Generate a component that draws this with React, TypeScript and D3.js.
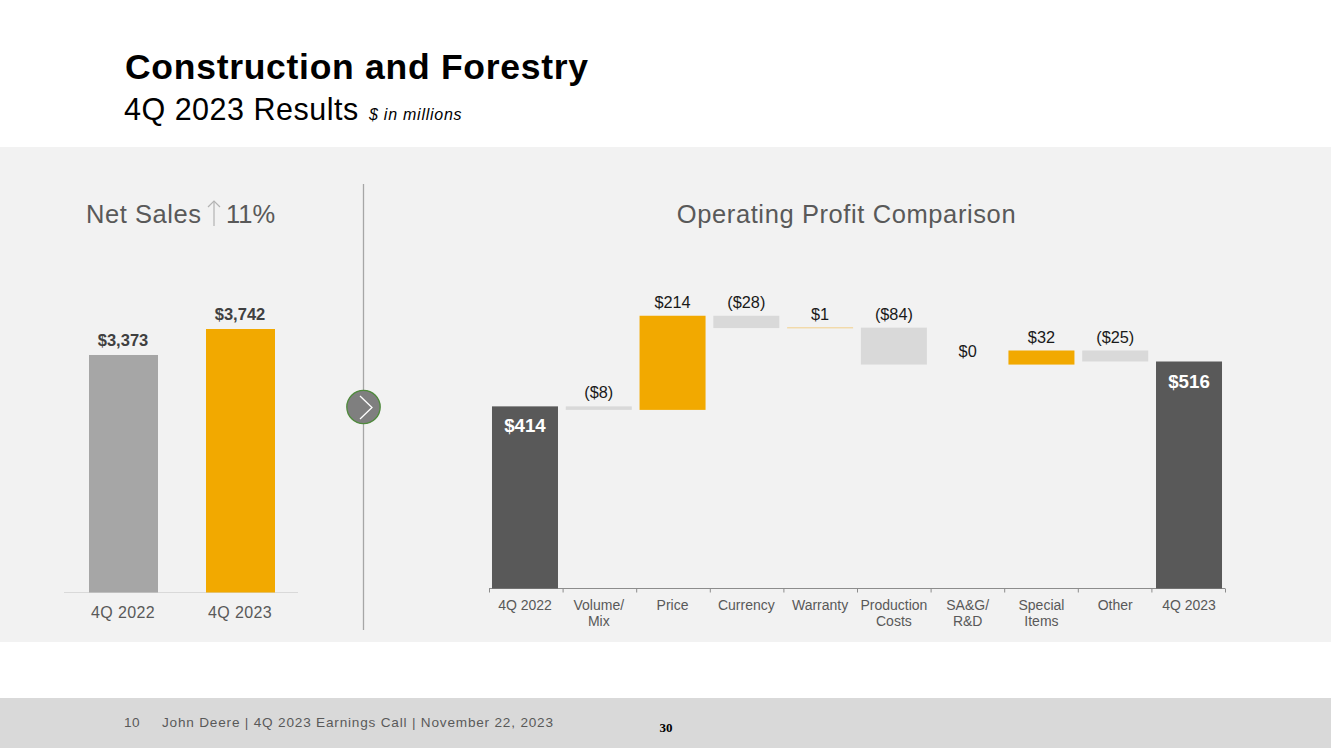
import React from "react";
import * as d3 from "d3";

const salesLabels = ["4Q 2022", "4Q 2023"];
const salesValues = [3373, 3742];
const salesText = ["$3,373", "$3,742"];
const salesColors = ["#a6a6a6", "#f2a900"];

const wfCategories = ["4Q 2022", "Volume/\nMix", "Price", "Currency", "Warranty", "Production\nCosts", "SA&G/\nR&D", "Special\nItems", "Other", "4Q 2023"];
const wfValues = [414, -8, 214, -28, 1, -84, 0, 32, -25, 516];
const wfKinds = ["total", "delta", "delta", "delta", "delta", "delta", "delta", "delta", "delta", "total"];
const wfText = ["$414", "($8)", "$214", "($28)", "$1", "($84)", "$0", "$32", "($25)", "$516"];

const FONT = "Liberation Sans, Arial, sans-serif";

export default function App() {
  const barW = 69;
  const sx = d3.scalePoint<string>().domain(salesLabels).range([89 + barW / 2, 206 + barW / 2]);
  const sy = d3.scaleLinear().domain([0, 3742]).range([592.5, 329]);

  const wx = d3.scaleBand<number>().domain(d3.range(wfValues.length)).range([488.1, 1225.9]);
  const wy = d3.scaleLinear().domain([0, 516]).range([588.5, 361.5]);
  const wfBarW = 66;

  let running = 0;
  const bars = wfValues.map((v, i) => {
    if (wfKinds[i] === "total") {
      running = v;
      return { y0: 0, y1: v, v, i, total: true };
    }
    const y0 = running;
    running += v;
    return { y0, y1: running, v, i, total: false };
  });

  return (
    <svg width={1331} height={748} style={{ position: "absolute", left: 0, top: 0, display: "block" }} fontFamily={FONT}>
      <rect x={0} y={0} width={1331} height={748} fill="#ffffff" />
      <rect x={0} y={147} width={1331} height={495} fill="#f2f2f2" />
      <rect x={0} y={698} width={1331} height={50} fill="#d9d9d9" />

      <text x={125} y={78.5} fontSize={35.5} fontWeight={700} fill="#000" letterSpacing={0.72}>Construction and Forestry</text>
      <text x={124} y={120} fontSize={30.5} fill="#000" letterSpacing={0.5}>4Q 2023 Results</text>
      <text x={369} y={120} fontSize={16} fontStyle="italic" fill="#000" letterSpacing={0.75}>$ in millions</text>

      <text x={86} y={222.5} fontSize={25.5} fill="#595959" letterSpacing={0.55}>Net Sales</text>
      <g stroke="#b3b3b3" strokeWidth={1.2} fill="none">
        <path d="M214 226V201" />
        <path d="M208 207L214 201L220 207" />
      </g>
      <text x={226} y={222.5} fontSize={25.5} fill="#595959">11%</text>
      <text x={846.5} y={222.5} fontSize={25.5} fill="#595959" textAnchor="middle" letterSpacing={0.6}>Operating Profit Comparison</text>

      <line x1={363.5} x2={363.5} y1={184} y2={630} stroke="#a6a6a6" strokeWidth={1.3} />
      <circle cx={363.5} cy={407} r={16.7} fill="#7f7f7f" stroke="#4f8a3c" strokeWidth={1.3} />
      <path d="M360 396L372 407.5L360 419" fill="none" stroke="#fff" strokeWidth={1.3} />

      <line x1={64} x2={298} y1={592.5} y2={592.5} stroke="#d9d9d9" strokeWidth={1} />
      {salesLabels.map((c, i) => {
        const mid = sx(c) as number;
        return (
          <g key={c}>
            <rect x={mid - barW / 2} y={sy(salesValues[i])} width={barW} height={sy(0) - sy(salesValues[i])} fill={salesColors[i]} />
            <text x={mid - 0.5} y={sy(salesValues[i]) - 9} fontSize={16.5} fontWeight={700} fill="#404040" textAnchor="middle">{salesText[i]}</text>
            <text x={mid - 0.5} y={618} fontSize={16} fill="#595959" textAnchor="middle" letterSpacing={0.35}>{c}</text>
          </g>
        );
      })}

      <line x1={489} x2={1225} y1={588.5} y2={588.5} stroke="#8c8c8c" strokeWidth={1} />
      {d3.range(wfValues.length + 1).map((i) => {
        const x = 489.5 + (i * (1225 - 489)) / wfValues.length;
        return <line key={i} x1={x} x2={x} y1={588.5} y2={592.5} stroke="#8c8c8c" strokeWidth={1} />;
      })}
      {bars.map((b) => {
        const c = (wx(b.i) as number) + wx.bandwidth() / 2;
        const top = wy(Math.max(b.y0, b.y1));
        const bottom = wy(Math.min(b.y0, b.y1));
        const fill = b.total ? "#595959" : b.v > 0 ? "#f2a900" : "#d9d9d9";
        const thin = b.v === 1;
        return (
          <g key={b.i}>
            {b.v !== 0 && (
              thin ? (
                <line x1={c - wfBarW / 2} x2={c + wfBarW / 2} y1={top + 0.2} y2={top + 0.2} stroke="#f2cf8a" strokeWidth={1} />
              ) : (
                <rect x={c - wfBarW / 2} y={top} width={wfBarW} height={bottom - top} fill={fill} />
              )
            )}
            {b.total ? (
              <text x={c} y={top + 26} fontSize={18.7} fontWeight={700} fill="#fff" textAnchor="middle">{wfText[b.i]}</text>
            ) : (
              <text x={c} y={b.v === 0 ? 357 : top - 8} fontSize={16.3} fill="#1a1a1a" textAnchor="middle">{wfText[b.i]}</text>
            )}
            {wfCategories[b.i].split("\n").map((t, k) => (
              <text key={k} x={c} y={610 + k * 16} fontSize={14} fill="#595959" textAnchor="middle">{t}</text>
            ))}
          </g>
        );
      })}

      <text x={124} y={727} fontSize={13.6} fill="#595959" letterSpacing={0.5}>10</text>
      <text x={162} y={727} fontSize={13.6} fill="#595959" letterSpacing={0.8}>John Deere | 4Q 2023 Earnings Call | November 22, 2023</text>
      <text x={666} y={732} fontSize={13} fontWeight={700} fill="#000" textAnchor="middle" fontFamily="Liberation Serif, serif">30</text>
    </svg>
  );
}
